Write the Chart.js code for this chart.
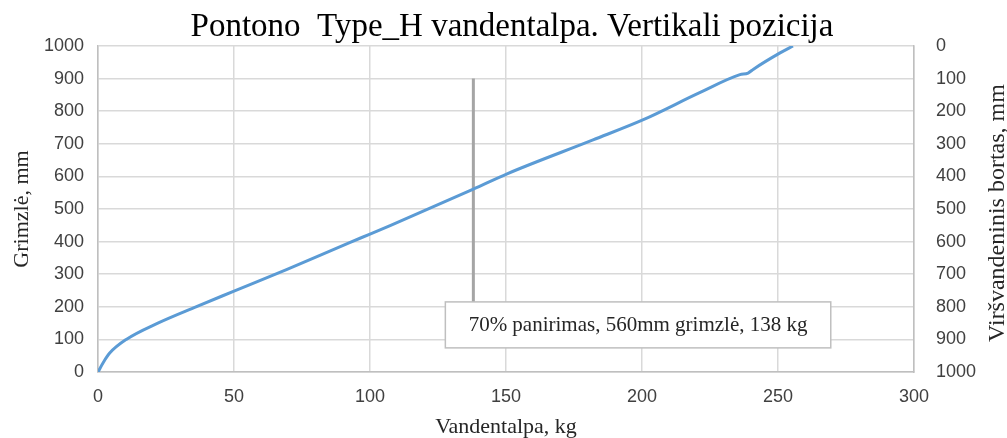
<!DOCTYPE html>
<html>
<head>
<meta charset="utf-8">
<script src="https://cdn.jsdelivr.net/npm/chart.js@4/dist/chart.umd.min.js"></script>
<style>
    html, body { margin: 0; padding: 0; background: #fff; }
    #wrap { width: 1007px; height: 438px; }
</style>
</head>
<body>
<div id="wrap"><canvas id="chart" width="1007" height="438"></canvas></div>
<script>
// === Data ===
const massKg = [0, 2, 4.3, 10.4, 22, 36, 50, 69.3, 92.5, 100, 107.4, 138, 150.4, 182, 200.5, 221, 236, 239, 241, 250.6, 255.5];
const draftMm = [0, 30, 58, 100, 150, 200, 248, 314, 397, 423, 449, 561, 608, 712, 774, 856, 912, 917, 929, 978, 1000];

const markerX = [138, 138];
const markerY = [900, 215];
const chartTitle = 'Pontono  Type_H vandentalpa. Vertikali pozicija';
const noteText = '70% panirimas, 560mm grimzlė, 138 kg';
const rightTitle = 'Viršvandeninis bortas, mm';

// annotation box, in axis units
const noteBox = { x0: 127.7, x1: 269.4, y0: 215, y1: 74 };

const SERIF = '"Liberation Serif", "DejaVu Serif", serif';
const SANS = '"Liberation Sans", Arial, sans-serif';
const GRID = '#d9d9d9';

// === Annotation box, title, right axis title ===
const noteBoxPlugin = {
    id: 'noteBox',
    afterDatasetsDraw(chart) {
        const { ctx, scales } = chart;
        const left = scales.x.getPixelForValue(noteBox.x0);
        const right = scales.x.getPixelForValue(noteBox.x1);
        const top = scales.y.getPixelForValue(noteBox.y0);
        const bottom = scales.y.getPixelForValue(noteBox.y1);
        ctx.save();
        ctx.fillStyle = '#ffffff';
        ctx.fillRect(left, top, right - left, bottom - top);
        ctx.strokeStyle = '#bfbfbf';
        ctx.lineWidth = 1.5;
        ctx.strokeRect(left, top, right - left, bottom - top);
        ctx.fillStyle = '#262626';
        ctx.font = '21px ' + SERIF;
        ctx.textAlign = 'center';
        ctx.textBaseline = 'middle';
        ctx.fillText(noteText, (left + right) / 2, (top + bottom) / 2 + 1);
        ctx.restore();
    },
    afterDraw(chart) {
        const { ctx, scales } = chart;
        const s = scales.y2;
        ctx.save();
        // chart title, centred a bit right like the Excel original
        ctx.fillStyle = '#000';
        ctx.font = '33px ' + SERIF;
        ctx.textAlign = 'center';
        ctx.textBaseline = 'alphabetic';
        ctx.fillText(chartTitle, 512, 36);
        // Excel writes the secondary axis title bottom-to-top
        ctx.translate(s.right - 9, (s.top + s.bottom) / 2 + 4);
        ctx.rotate(-Math.PI / 2);
        ctx.fillStyle = '#262626';
        ctx.font = '24px ' + SERIF;
        ctx.textBaseline = 'middle';
        ctx.fillText(rightTitle, 0, 0);
        ctx.restore();
    }
};

const toPoints = (xs, ys) => xs.map((x, i) => ({ x, y: ys[i] }));
const plainTick = v => String(v);

new Chart(document.getElementById('chart').getContext('2d'), {
    type: 'line',
    data: {
        datasets: [{
            label: 'Grimzlė',
            data: toPoints(massKg, draftMm),
            borderColor: '#5b9bd5',
            borderWidth: 3,
            pointRadius: 0,
            cubicInterpolationMode: 'monotone',
            fill: false,
            yAxisID: 'y'
        }, {
            label: '70%',
            data: toPoints(markerX, markerY),
            borderColor: '#a5a5a5',
            borderWidth: 3,
            pointRadius: 0,
            fill: false,
            yAxisID: 'y'
        }]
    },
    options: {
        responsive: false,
        animation: false,
        layout: { padding: { top: 46 } },
        plugins: {
            legend: { display: false },
            tooltip: { enabled: false },
            title: { display: false }
        },
        scales: {
            x: {
                type: 'linear',
                min: 0,
                max: 300,
                ticks: { stepSize: 50, color: '#404040', font: { family: SANS, size: 18 }, padding: 14, callback: plainTick },
                grid: { color: GRID, lineWidth: 1.5, drawTicks: false },
                border: { color: '#bfbfbf', width: 1.5 },
                title: {
                    display: true,
                    text: 'Vandentalpa, kg',
                    color: '#262626',
                    font: { family: SERIF, size: 22 },
                    padding: { top: 0, bottom: -2 }
                },
                afterFit(scale) { scale.height = 66; }
            },
            y: {
                type: 'linear',
                position: 'left',
                min: 0,
                max: 1000,
                ticks: { stepSize: 100, color: '#404040', font: { family: SANS, size: 18 }, padding: 14, callback: plainTick },
                grid: { color: GRID, lineWidth: 1.5, drawTicks: false },
                border: { color: '#bfbfbf', width: 1.5 },
                title: {
                    display: true,
                    text: 'Grimzlė, mm',
                    color: '#262626',
                    font: { family: SERIF, size: 22 },
                    padding: { top: 9, bottom: 0 }
                },
                afterFit(scale) { scale.width = 98; }
            },
            y2: {
                type: 'linear',
                position: 'right',
                min: 0,
                max: 1000,
                reverse: true,
                ticks: { stepSize: 100, color: '#404040', font: { family: SANS, size: 18 }, padding: 22, callback: plainTick },
                grid: { display: false, drawTicks: false },
                border: { color: '#bfbfbf', width: 1.5 },
                afterFit(scale) { scale.width = 93; }
            }
        }
    },
    plugins: [noteBoxPlugin]
});
</script>
</body>
</html>
